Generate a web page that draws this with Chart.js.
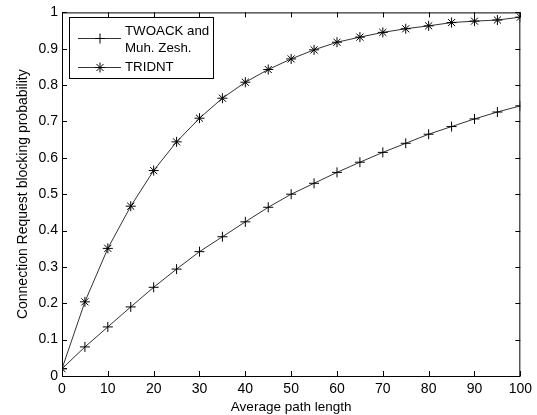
<!DOCTYPE html>
<html>
<head>
<meta charset="utf-8">
<script src="https://cdn.jsdelivr.net/npm/chart.js@4.4.1/dist/chart.umd.min.js"></script>
<style>
  html, body { margin: 0; padding: 0; background: #fff; }
  #wrap { width: 537px; height: 415px; }
</style>
</head>
<body>
<div id="wrap"><canvas id="myChart" width="537" height="415"></canvas></div>
<script>
const pathLength = [0, 5, 10, 15, 20, 25, 30, 35, 40, 45, 50, 55, 60, 65, 70, 75, 80, 85, 90, 95, 100];
const twoackValues = [0.020, 0.080, 0.135, 0.190, 0.244, 0.294, 0.342, 0.383, 0.424, 0.464, 0.500, 0.530, 0.560, 0.588, 0.615, 0.640, 0.665, 0.686, 0.707, 0.726, 0.743];
const tridntValues = [0.020, 0.204, 0.351, 0.467, 0.565, 0.644, 0.709, 0.764, 0.808, 0.843, 0.872, 0.897, 0.918, 0.932, 0.945, 0.955, 0.963, 0.972, 0.976, 0.979, 0.987];
const xTicks = [0, 10, 20, 30, 40, 50, 60, 70, 80, 90, 100];
const yTicks = [0, 0.1, 0.2, 0.3, 0.4, 0.5, 0.6, 0.7, 0.8, 0.9, 1];
const legendLines = [['TWOACK and', 'Muh. Zesh.'], ['TRIDNT']];

const font = 'Arial, "Liberation Sans", sans-serif';

function toPoints(ys) {
  return pathLength.map((x, i) => ({ x: x, y: ys[i] }));
}

// box, inward ticks on all four sides and the legend, MATLAB style
const matlabBox = {
  id: 'matlabBox',
  afterDraw: (chart) => {
    let ctx = chart.ctx;
    let a = chart.chartArea;
    let sx = chart.scales.x, sy = chart.scales.y;
    ctx.save();
    ctx.strokeStyle = '#000';
    ctx.lineWidth = 1;
    ctx.strokeRect(a.left + 0.5, a.top + 0.5, a.right - a.left - 1, a.bottom - a.top);
    ctx.beginPath();
    xTicks.forEach(v => {
      let p = Math.round(sx.getPixelForValue(v)) + 0.5;
      ctx.moveTo(p, a.bottom); ctx.lineTo(p, a.bottom - 5);
      ctx.moveTo(p, a.top); ctx.lineTo(p, a.top + 5);
    });
    yTicks.forEach(v => {
      let p = Math.round(sy.getPixelForValue(v)) + 0.5;
      ctx.moveTo(a.left, p); ctx.lineTo(a.left + 5, p);
      ctx.moveTo(a.right, p); ctx.lineTo(a.right - 5, p);
    });
    ctx.stroke();

    // legend
    let lx = 69, ly = 17, lw = 144, lh = 61;
    ctx.fillStyle = '#fff';
    ctx.fillRect(lx, ly, lw, lh);
    ctx.strokeRect(lx + 0.5, ly + 0.5, lw, lh);
    ctx.font = '13.3px ' + font;
    ctx.textBaseline = 'middle';
    let rows = [38, 67];
    chart.data.datasets.forEach((ds, i) => {
      let y = rows[i] + 0.5;
      ctx.strokeStyle = '#333';
      ctx.beginPath();
      ctx.moveTo(78, y); ctx.lineTo(121, y);
      ctx.stroke();
      ctx.strokeStyle = '#000';
      ctx.beginPath();
      if (ds.pointStyle === 'cross') {
        ctx.moveTo(100, y - 5); ctx.lineTo(100, y + 5);
        ctx.moveTo(95, y); ctx.lineTo(105, y);
      } else {
        for (let k = 0; k < 4; k++) {
          let ang = k * Math.PI / 4;
          ctx.moveTo(100 + 5 * Math.cos(ang), y + 5 * Math.sin(ang));
          ctx.lineTo(100 - 5 * Math.cos(ang), y - 5 * Math.sin(ang));
        }
      }
      ctx.stroke();
      ctx.fillStyle = '#000';
      let lines = legendLines[i];
      if (lines.length === 2) {
        ctx.fillText(lines[0], 125, 31);
        ctx.fillText(lines[1], 125, 48);
      } else {
        ctx.fillText(lines[0], 125, 67);
      }
    });
    ctx.restore();
  }
};

var ctx = document.getElementById('myChart').getContext('2d');
let myChart = new Chart(ctx, {
  type: 'line',
  data: {
    datasets: [{
      label: 'TWOACK and Muh. Zesh.',
      data: toPoints(twoackValues),
      borderColor: '#333',
      borderWidth: 1,
      pointStyle: 'cross',
      pointRadius: 5,
      pointBorderColor: '#000',
      pointBorderWidth: 1,
      fill: false,
      tension: 0
    }, {
      label: 'TRIDNT',
      data: toPoints(tridntValues),
      borderColor: '#333',
      borderWidth: 1,
      pointStyle: 'star',
      pointRadius: 5,
      pointBorderColor: '#000',
      pointBorderWidth: 1,
      fill: false,
      tension: 0
    }]
  },
  options: {
    responsive: false,
    animation: false,
    layout: { padding: { left: 15, right: 11, top: 12, bottom: 0 } },
    plugins: {
      legend: { display: false },
      tooltip: { enabled: false }
    },
    scales: {
      x: {
        type: 'linear',
        min: 0,
        max: 100,
        afterFit: (s) => { s.height = 39; },
        afterBuildTicks: (s) => { s.ticks = xTicks.map(v => ({ value: v })); },
        grid: { display: false, drawTicks: false },
        border: { display: false },
        ticks: { color: '#000', font: { family: font, size: 14 }, padding: 5, maxRotation: 0,
          callback: (v) => String(v) },
        title: { display: true, text: 'Average path length', color: '#000', font: { family: font, size: 13.5 }, padding: { top: 0, bottom: 0 } }
      },
      y: {
        type: 'linear',
        min: 0,
        max: 1,
        afterFit: (s) => { s.width = 47; },
        afterBuildTicks: (s) => { s.ticks = yTicks.map(v => ({ value: v })); },
        grid: { display: false, drawTicks: false },
        border: { display: false },
        ticks: { color: '#000', font: { family: font, size: 14 }, padding: 4,
          callback: (v) => String(Math.round(v * 10) / 10) },
        title: { display: true, text: 'Connection Request blocking probability', color: '#000', font: { family: font, size: 14 }, padding: { top: 0, bottom: 0 } }
      }
    }
  },
  plugins: [matlabBox]
});
</script>
</body>
</html>
